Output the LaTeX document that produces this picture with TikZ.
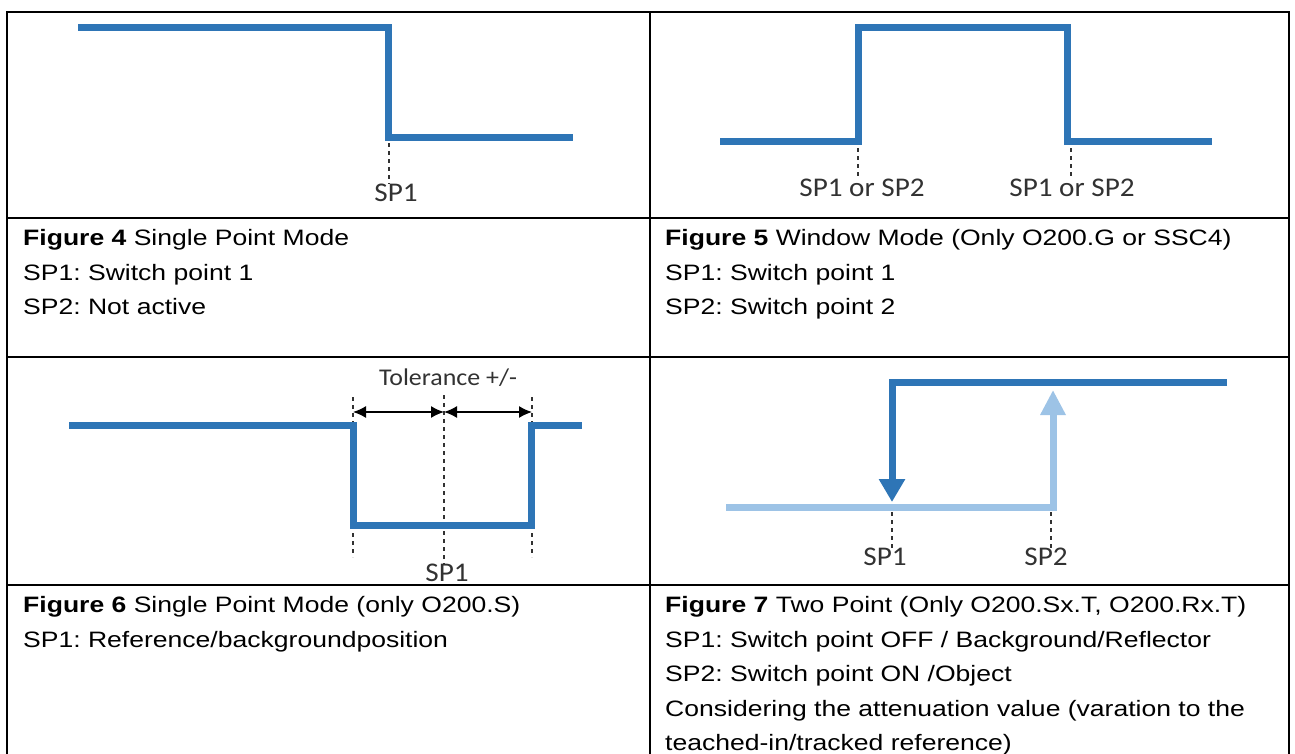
\documentclass[tikz,border=0pt]{standalone}
\usepackage{fontspec}
\setmainfont{Liberation Sans}[FakeStretch=1.19]
\newfontfamily\labelfont{Carlito}[FakeStretch=1.08]
\usetikzlibrary{arrows.meta}
\definecolor{sigdark}{RGB}{46,117,182}
\definecolor{siglight}{RGB}{157,195,230}
\definecolor{markgray}{RGB}{50,50,50}
\tikzset{
  signal/.style={sigdark, line width=7pt},
  signallight/.style={siglight, line width=7pt},
  marker/.style={markgray, line width=1.4pt, dash pattern=on 4pt off 4pt},
  splabel/.style={font=\labelfont\fontsize{27}{30}\selectfont, text=markgray, inner sep=0pt},
  caption/.style={anchor=base west, inner sep=0pt, font=\fontsize{22.3}{34.5}\selectfont},
  tablerule/.style={line width=2.2pt, line cap=rect},
  tolarrow/.style={{Latex[length=13pt,width=12pt]}-{Latex[length=13pt,width=12pt]}, line width=1.4pt}
}
\begin{document}
\frenchspacing
\begin{tikzpicture}[x=1pt, y=-1pt]
\useasboundingbox (0,0) rectangle (1295,753);
\foreach \y in {12,218,357,585} \draw[tablerule] (7,\y) -- (1289,\y);
\foreach \x in {7,650,1289} \draw[tablerule] (\x,12) -- (\x,760);

% Figure 4
\coordinate (f4a) at (78,27);
\coordinate (f4b) at (388,27);
\coordinate (f4c) at (388,137);
\coordinate (f4d) at (573,137);
\draw[signal] (f4a) -- (f4b) -- (f4c) -- (f4d);
\node[splabel] (sp4) at (396,193) {SP1};
\coordinate (m4) at (389,143);
\draw[marker] (m4) -- (m4 |- sp4.north);

% Figure 5
\coordinate (f5a) at (720,141);
\coordinate (f5b) at (858,141);
\coordinate (f5c) at (858,27);
\coordinate (f5d) at (1067,27);
\coordinate (f5e) at (1067,141);
\coordinate (f5f) at (1212,141);
\draw[signal] (f5a) -- (f5b) -- (f5c) -- (f5d) -- (f5e) -- (f5f);
\node[splabel] (sp5a) at (862,188) {SP1 or SP2};
\node[splabel] (sp5b) at (1072,188) {SP1 or SP2};
\coordinate (m5a) at (858,148);
\coordinate (m5b) at (1071,148);
\draw[marker] (m5a) -- (m5a |- sp5a.north);
\draw[marker] (m5b) -- (m5b |- sp5b.north);

% Figure 6
\node[splabel, font=\labelfont\fontsize{24}{28}\selectfont] (tol) at (448,378) {Tolerance +/-};
\node[splabel] (sp6) at (447,573) {SP1};
\coordinate (m6a) at (353,397);
\coordinate (m6b) at (444,395);
\coordinate (m6c) at (532,397);
\draw[marker] (m6a) -- (353,557);
\draw[marker] (m6b) -- (m6b |- sp6.north);
\draw[marker] (m6c) -- (532,557);
\coordinate (f6a) at (69,425);
\coordinate (f6b) at (353,425);
\coordinate (f6c) at (353,525);
\coordinate (f6d) at (531,525);
\coordinate (f6e) at (531,425);
\coordinate (f6f) at (582,425);
\draw[signal] (f6a) -- (f6b) -- (f6c) -- (f6d) -- (f6e) -- (f6f);
\coordinate (t6a) at (353,412);
\coordinate (t6b) at (444,412);
\coordinate (t6c) at (532,412);
\draw[tolarrow] (t6a) -- (t6b);
\draw[tolarrow] (t6b) -- (t6c);

% Figure 7
\coordinate (f7a) at (726,507);
\coordinate (f7b) at (1053,507);
\coordinate (f7c) at (1053,390);
\coordinate (f7d) at (1227,382);
\coordinate (f7e) at (892,382);
\coordinate (f7f) at (892,502);
\draw[signallight, -{Triangle[length=25pt,width=24pt]}] (f7a) -- (f7b) -- (f7c);
\draw[signal, -{Triangle[length=23pt,width=25pt]}] (f7d) -- (f7e) -- (f7f);
\node[splabel] (sp7a) at (885,557) {SP1};
\node[splabel] (sp7b) at (1046,557) {SP2};
\coordinate (m7a) at (892,512);
\coordinate (m7b) at (1051,512);
\draw[marker] (m7a) -- (m7a |- sp7a.north);
\draw[marker] (m7b) -- (m7b |- sp7b.north);

% captions
\foreach \txt [count=\i] in {{\textbf{Figure 4} Single Point Mode}, {SP1: Switch point 1}, {SP2: Not active}}
  \node[caption] (capA\i) at (23,{245.5+34.5*(\i-1)}) {\txt};
\foreach \txt [count=\i] in {{\textbf{Figure 5} Window Mode (Only O200.G or SSC4)}, {SP1: Switch point 1}, {SP2: Switch point 2}}
  \node[caption] (capB\i) at (665,{245.5+34.5*(\i-1)}) {\txt};
\foreach \txt [count=\i] in {{\textbf{Figure 6} Single Point Mode (only O200.S)}, {SP1: Reference/backgroundposition}}
  \node[caption] (capC\i) at (23,{612.5+34.5*(\i-1)}) {\txt};
\foreach \txt [count=\i] in {{\textbf{Figure 7} Two Point (Only O200.Sx.T, O200.Rx.T)}, {SP1: Switch point OFF / Background/Reflector}, {SP2: Switch point ON /Object}, {Considering the attenuation value (varation to the}, {teached-in/tracked reference)}}
  \node[caption] (capD\i) at (665,{612.5+34.5*(\i-1)}) {\txt};
\end{tikzpicture}
\end{document}
